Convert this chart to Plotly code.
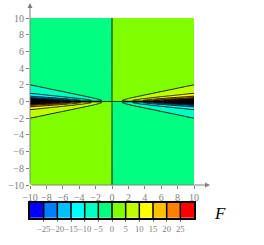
import plotly.graph_objects as go

# grid coordinates
x_grid = [-10, -9, -8, -7, -6, -5, -4, -3, -2.5, -2, -1.75, -1.5, -1.25, -1, -0.75, -0.5, -0.25, 0,
          0.25, 0.5, 0.75, 1, 1.25, 1.5, 1.75, 2, 2.5, 3, 4, 5, 6, 7, 8, 9, 10]
y_grid = [-10, -7, -5, -4, -3, -2.5, -2, -1.75, -1.5, -1.25, -1, -0.9, -0.8, -0.7, -0.6, -0.5, -0.4,
          -0.35, -0.3, -0.25, -0.2, -0.175, -0.15, -0.125, -0.1, -0.075, -0.05, -0.025, 0,
          0.025, 0.05, 0.075, 0.1, 0.125, 0.15, 0.175, 0.2, 0.25, 0.3, 0.35, 0.4, 0.5, 0.6,
          0.7, 0.8, 0.9, 1, 1.25, 1.5, 1.75, 2, 2.5, 3, 4, 5, 7, 10]
profile = [-0.10, -0.14, -0.20, -0.25, -0.33, -0.40, -0.50, -0.57, -0.66, -0.79, -0.98, -1.09, -1.22,
           -1.38, -1.60, -1.88, -2.27, -2.53, -2.83, -3.19, -3.57, -3.75, -3.90, -3.95, -3.85, -3.47,
           -2.70, -1.50, 0,
           1.50, 2.70, 3.47, 3.85, 3.95, 3.90, 3.75, 3.57, 3.19, 2.83, 2.53, 2.27, 1.88, 1.60,
           1.38, 1.22, 1.09, 0.98, 0.79, 0.66, 0.57, 0.50, 0.40, 0.33, 0.25, 0.20, 0.14, 0.10]

levels = [-30, -25, -20, -15, -10, -5, 0, 5, 10, 15, 20, 25, 30]
band_colors = ["#0000FF", "#0080FF", "#00C0FF", "#00FFFF", "#00FFC0", "#00FF80",
               "#80FF00", "#C0FF00", "#FFFF00", "#FFC000", "#FF8000", "#FF0000"]
axis_ticks = [-10, -8, -6, -4, -2, 0, 2, 4, 6, 8, 10]
cbar_ticks = [-25, -20, -15, -10, -5, 0, 5, 10, 15, 20, 25]

z = [[x * h for x in x_grid] for h in profile]

n = len(band_colors)
# colour bar scale over [-30, 30]
cscale = []
for i, c in enumerate(band_colors):
    cscale.append([i / n, c])
    cscale.append([(i + 1) / n, c])

# contour fill scale: levels -40..40, plotly maps colours over [-42.5, 42.5];
# values beyond the colour bar range are dense-line (black) regions
c_lo, c_hi = -42.5, 42.5
def p(v):
    return (v - c_lo) / (c_hi - c_lo)
fscale = [[0, "black"], [p(levels[0]), "black"]]
for i, c in enumerate(band_colors):
    fscale.append([p(levels[i]), c])
    fscale.append([p(levels[i + 1]), c])
fscale += [[p(levels[-1]), "black"], [1, "black"]]

def lab(v):
    return ("\u2212" + str(-v)) if v < 0 else str(v)

gray = "#808080"
tfont = dict(family="Liberation Serif", size=10, color=gray)
cfont = dict(family="Liberation Serif", size=8.6, color=gray)

fig = go.Figure()
fig.add_trace(go.Contour(
    x=x_grid, y=y_grid, z=z, colorscale=fscale, showscale=False,
    contours=dict(start=-40, end=40, size=5, coloring="fill", showlines=True),
    line=dict(color="black", width=0.9, smoothing=0),
))

# colorbar drawn as heatmap
centers = [(levels[i] + levels[i + 1]) / 2 for i in range(n)]
fig.add_trace(go.Heatmap(
    x=centers, y=[0], z=[centers], colorscale=cscale, zmin=levels[0], zmax=levels[-1],
    showscale=False, xaxis="x2", yaxis="y2", hoverinfo="skip",
))
sx, sy = [], []
for b in levels[1:-1]:
    sx += [b, b, None]
    sy += [-0.5, 0.5, None]
fig.add_trace(go.Scatter(x=sx, y=sy, mode="lines", line=dict(color="black", width=1.5),
                         xaxis="x2", yaxis="y2", showlegend=False, hoverinfo="skip"))

fig.update_layout(
    width=264, height=245, margin=dict(l=30, r=70, t=18, b=27, autoexpand=False),
    paper_bgcolor="white", plot_bgcolor="white", showlegend=False,
    xaxis=dict(domain=[0, 1], anchor="y", range=[-10, 10], showgrid=False, zeroline=False,
               showline=False, tickvals=axis_ticks, ticktext=[lab(v) for v in axis_ticks],
               ticks="outside", ticklen=3, tickcolor=gray, tickfont=tfont, tickangle=0,
               automargin=False),
    yaxis=dict(domain=[0.165, 1], anchor="x", range=[-10, 10], showgrid=False, zeroline=False,
               showline=False, tickvals=axis_ticks, ticktext=[lab(v) for v in axis_ticks],
               ticks="outside", ticklen=3, tickcolor=gray, tickfont=tfont, automargin=False),
    xaxis2=dict(domain=[0, 1], anchor="y2", range=[-30, 30], showgrid=False, zeroline=False,
                showline=True, mirror=True, linecolor="black", linewidth=1.5,
                tickvals=cbar_ticks, ticktext=[lab(v) for v in cbar_ticks], tickangle=0,
                ticks="outside", ticklen=2, tickcolor=gray, tickfont=cfont, automargin=False),
    yaxis2=dict(domain=[0, 0.0765], anchor="x2", range=[-0.5, 0.5], showgrid=False,
                zeroline=False, showline=True, mirror=True, linecolor="black", linewidth=1.5,
                showticklabels=False, ticks="", automargin=False),
    annotations=[
        dict(xref="paper", yref="paper", x=1.0976, y=0.165, ax=-180, ay=0, text="",
             showarrow=True, arrowhead=2, arrowsize=1, arrowwidth=1, arrowcolor=gray),
        dict(xref="paper", yref="paper", x=0, y=1.075, ax=0, ay=182, text="",
             showarrow=True, arrowhead=2, arrowsize=1, arrowwidth=1, arrowcolor=gray),
        dict(xref="paper", yref="paper", x=1.159, y=0.025, text="<i>F</i>", showarrow=False,
             xanchor="center", yanchor="middle",
             font=dict(family="Liberation Serif", size=17, color="black")),
    ],
)

fig.write_html("out.html")
